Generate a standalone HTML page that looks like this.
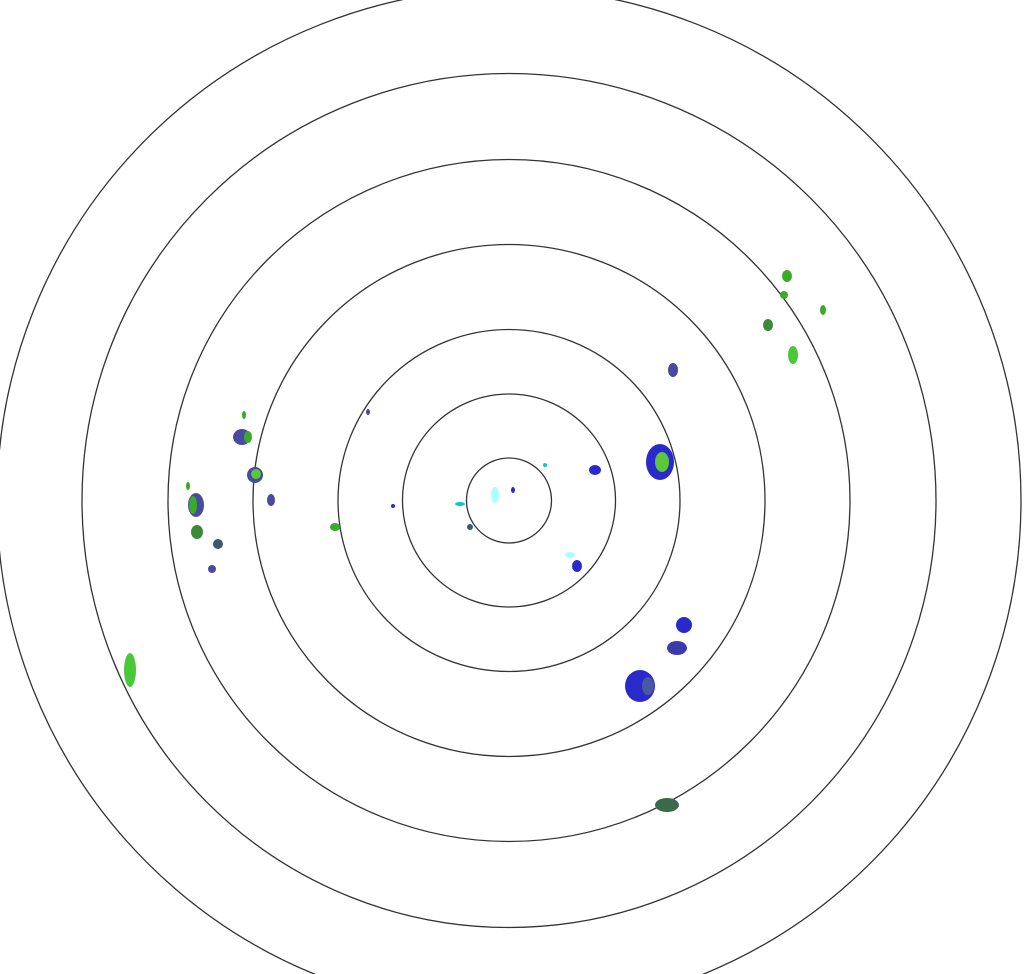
<!DOCTYPE html>
<html><head><meta charset="utf-8"><style>html,body{margin:0;padding:0;background:#fff;}svg{display:block}</style></head>
<body>
<svg width="1029" height="974" viewBox="0 0 1029 974" xmlns="http://www.w3.org/2000/svg">
<g fill="none" stroke="#333" stroke-width="1.3">
<circle cx="509" cy="500.5" r="42.5"/>
<circle cx="509" cy="500.5" r="106.5"/>
<circle cx="509" cy="500.5" r="171"/>
<circle cx="509" cy="500.5" r="256"/>
<circle cx="509" cy="500.5" r="341"/>
<circle cx="509" cy="500.5" r="427"/>
<circle cx="509" cy="500.5" r="512"/>
</g>
<g>
<!-- right cluster -->
<ellipse cx="660" cy="462" rx="14" ry="18" fill="#2a2acc"/>
<ellipse cx="662" cy="462" rx="7" ry="10" fill="#5ac83a"/>
<ellipse cx="673" cy="370" rx="5" ry="7" fill="#4a4aa0"/>
<ellipse cx="595" cy="470" rx="6" ry="5" fill="#2a2acc"/>
<ellipse cx="577" cy="566" rx="5" ry="6" fill="#2a2acc"/>
<ellipse cx="570" cy="555" rx="5" ry="3" fill="#aaffff"/>
<ellipse cx="684" cy="625" rx="8" ry="8" fill="#2a2acc"/>
<ellipse cx="677" cy="648" rx="10" ry="7" fill="#3a3aaa"/>
<ellipse cx="640" cy="686" rx="15" ry="16" fill="#2a2acc"/>
<ellipse cx="648" cy="686" rx="6" ry="9" fill="#4a5aa0"/>
<ellipse cx="667" cy="805" rx="12" ry="7" fill="#3a6a4a"/>
<!-- far NE greens -->
<ellipse cx="787" cy="276" rx="5" ry="6" fill="#3aaa2a"/>
<ellipse cx="784" cy="295" rx="4" ry="4" fill="#3aaa2a"/>
<ellipse cx="768" cy="325" rx="5" ry="6" fill="#3a8a3a"/>
<ellipse cx="793" cy="355" rx="5" ry="9" fill="#4ac83a"/>
<ellipse cx="823" cy="310" rx="3" ry="5" fill="#3aaa2a"/>
<!-- left cluster -->
<ellipse cx="242" cy="437" rx="9" ry="8" fill="#4a4aa0"/>
<ellipse cx="248" cy="437" rx="4" ry="6" fill="#3aaa2a"/>
<ellipse cx="244" cy="415" rx="2" ry="4" fill="#3aaa2a"/>
<ellipse cx="255" cy="475" rx="8" ry="8" fill="#4a4aa0"/>
<ellipse cx="256" cy="474" rx="5" ry="5" fill="#5ac83a"/>
<ellipse cx="196" cy="505" rx="8" ry="12" fill="#4a4aa0"/>
<ellipse cx="193" cy="505" rx="4" ry="9" fill="#3aaa2a"/>
<ellipse cx="197" cy="532" rx="6" ry="7" fill="#3a8a3a"/>
<ellipse cx="218" cy="544" rx="5" ry="5" fill="#3a5a6a"/>
<ellipse cx="212" cy="569" rx="4" ry="4" fill="#4a4aa0"/>
<ellipse cx="271" cy="500" rx="4" ry="6" fill="#4a4aa0"/>
<ellipse cx="335" cy="527" rx="5" ry="4" fill="#3aaa2a"/>
<ellipse cx="130" cy="670" rx="6" ry="17" fill="#4ac83a"/>
<ellipse cx="188" cy="486" rx="2" ry="4" fill="#3aaa2a"/>
<!-- center specks -->
<ellipse cx="460" cy="504" rx="5" ry="2" fill="#00cccc"/>
<ellipse cx="495" cy="495" rx="4" ry="8" fill="#aaffff"/>
<ellipse cx="470" cy="527" rx="3" ry="3" fill="#3a5a6a"/>
<ellipse cx="513" cy="490" rx="2" ry="3" fill="#2a2acc"/>
<ellipse cx="393" cy="506" rx="2" ry="2" fill="#2a2acc"/>
<ellipse cx="368" cy="412" rx="2" ry="3" fill="#4a4aa0"/>
<ellipse cx="545" cy="465" rx="2" ry="2" fill="#00cccc"/>
</g>
</svg>
</body></html>
